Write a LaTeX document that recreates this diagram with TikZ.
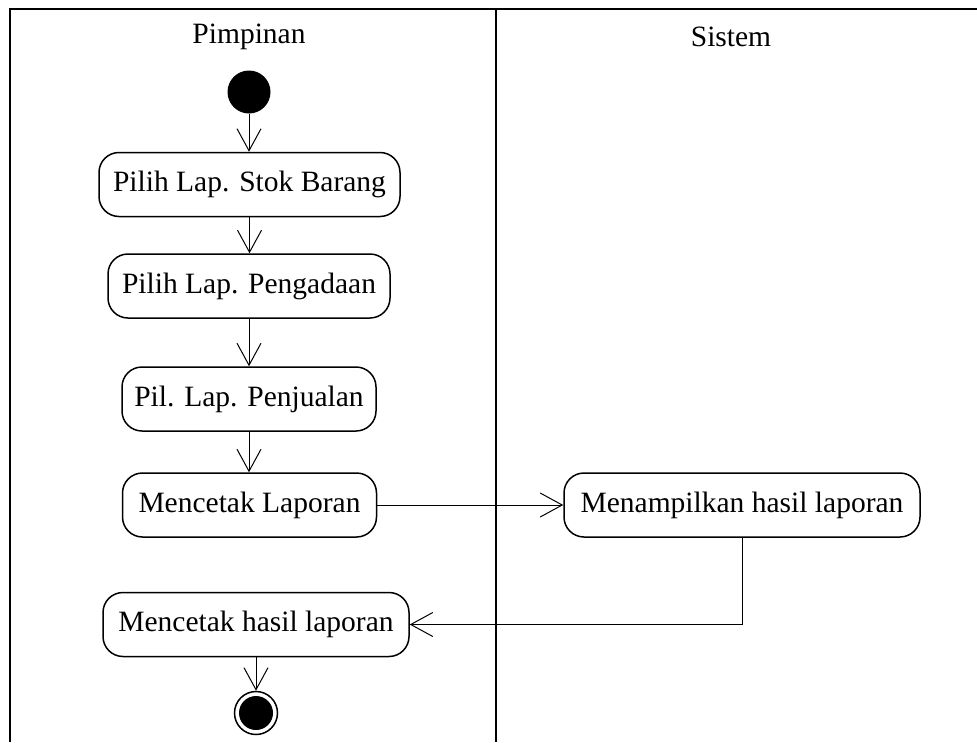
\documentclass[tikz,border=0pt]{standalone}
\usepackage{fontspec}
\setmainfont{Liberation Serif}
\usetikzlibrary{arrows.meta}
\begin{document}
\begin{tikzpicture}[x=1pt,y=-1pt,
  every node/.style={font=\fontsize{29.5}{35}\selectfont},
  act/.style={draw, line width=1.5pt, rounded corners=20pt, minimum height=64pt, inner xsep=4pt, fill=white},
  lane/.style={line width=2pt},
  arr/.style={line width=1pt, -{Straight Barb[length=22pt,width=24pt,line width=1pt]}},
  flow/.style={line width=1pt}
]
\useasboundingbox (0,0) rectangle (977,742);
% swimlanes
\draw[lane] (9.5,742) -- (9.5,8.5) -- (980,8.5);
\draw[lane] (496,8.5) -- (496,742);
\node (t1) at (249,37) {Pimpinan};
\node (t2) at (731,37) {Sistem};
% nodes
\node[circle, fill=black, minimum size=43pt, inner sep=0pt] (start) at (249,92) {};
\node[act, minimum width=301pt] (b1) at (249.5,184.5) {Pilih Lap. Stok Barang};
\node[act, minimum width=282pt] (b2) at (249,286) {Pilih Lap. Pengadaan};
\node[act, minimum width=254pt] (b3) at (249,399) {Pil. Lap. Penjualan};
\node[act, minimum width=254pt] (b4) at (249.5,505) {Mencetak Laporan};
\node[act, minimum width=356pt] (b5) at (742,505) {Menampilkan hasil laporan};
\node[act, minimum width=306pt] (b6) at (256,624.5) {Mencetak hasil laporan};
\node[circle, draw, line width=1.5pt, minimum size=43pt, inner sep=0pt] (end) at (256,713) {};
\node[circle, fill=black, minimum size=34pt, inner sep=0pt] (endin) at (end.center) {};
% connectors
\draw[arr] (start) -- (start |- b1.north);
\draw[arr] (b1) -- (b1 |- b2.north);
\draw[arr] (b2) -- (b2 |- b3.north);
\draw[arr] (b3) -- (b3 |- b4.north);
\draw[arr] (b4) -- (b5);
\draw[arr] (b5.south) |- (b6.east);
\draw[arr] (b6) -- (end);
\end{tikzpicture}
\end{document}
